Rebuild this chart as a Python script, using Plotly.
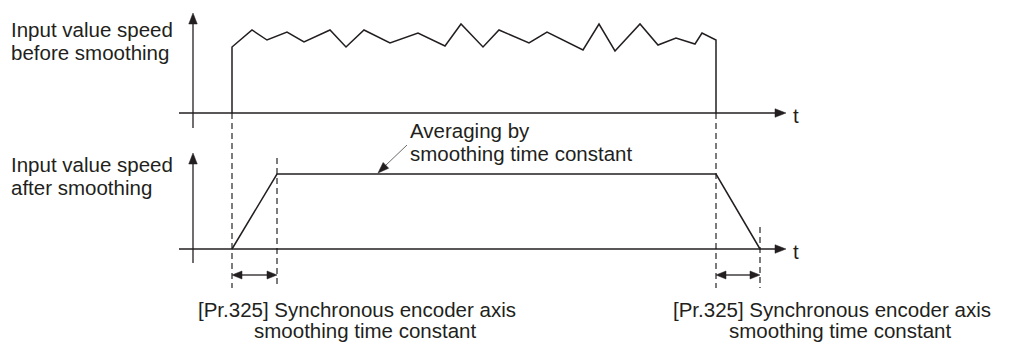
import plotly.graph_objects as go

# ---- data (diagram units: x = time position, y = speed level on the page) ----
# raw input speed (before smoothing)
raw_t = [232, 232, 252, 267, 287, 304, 330, 346, 364, 390, 418, 445, 461, 483, 499,
         529, 547, 583, 599, 615, 640, 658, 676, 695, 702, 716, 716]
raw_v = [113, 47, 30, 40, 32, 42, 30, 47, 30, 43, 33, 46, 24, 47, 30,
         43, 32, 50, 24, 51, 24, 45, 38, 44, 33, 40, 113]
# smoothed input speed (after smoothing)
smooth_t = [232, 277, 716, 760]
smooth_v = [249, 174, 174, 249]

# axes of the two time charts
top_origin = (193, 113)
bot_origin = (193, 249)
axis_x_start = 179
axis_x_end = 786
top_axis_y_top, top_axis_y_bottom = 13, 128
bot_axis_y_top, bot_axis_y_bottom = 153, 263

# dashed guide lines: (x, y_start, y_end)
guides = [(232, 113, 288), (277, 158, 288), (716, 113, 288), (760, 227, 288)]
# double arrows for smoothing time constant: (x0, x1, y)
spans = [(232, 277, 275), (716, 760, 275)]

label_top = ["Input value speed", "before smoothing"]
label_bot = ["Input value speed", "after smoothing"]
note_lines = ["Averaging by", "smoothing time constant"]
param_lines = ["[Pr.325] Synchronous encoder axis", "smoothing time constant"]

INK = "#231f20"
FONT = dict(family="Liberation Sans, Arial, sans-serif", size=20.5, color=INK)

fig = go.Figure()


def line(xs, ys, width=1.4, color=INK, dash=None):
    fig.add_trace(go.Scatter(x=xs, y=ys, mode="lines", hoverinfo="skip",
                             line=dict(color=color, width=width, dash=dash),
                             showlegend=False))


def head(tx, ty, dx, dy, length, width, color=INK):
    # filled triangular arrow head with tip at (tx, ty) pointing along (dx, dy)
    n = (dx * dx + dy * dy) ** 0.5
    ux, uy = dx / n, dy / n
    px, py = -uy, ux
    bx, by = tx - ux * length, ty - uy * length
    xs = [tx, bx + px * width / 2, bx - px * width / 2, tx]
    ys = [ty, by + py * width / 2, by - py * width / 2, ty]
    fig.add_trace(go.Scatter(x=xs, y=ys, mode="lines", fill="toself",
                             fillcolor=color, line=dict(color=color, width=0.5),
                             hoverinfo="skip", showlegend=False))


# axes
for (ox, oy), ytop, ybot in [(top_origin, top_axis_y_top, top_axis_y_bottom),
                             (bot_origin, bot_axis_y_top, bot_axis_y_bottom)]:
    line([ox, ox], [ybot, ytop + 8], width=1.3)
    head(ox, ytop, 0, -1, 11, 8.5)
    line([axis_x_start, axis_x_end - 8], [oy, oy], width=1.3)
    head(axis_x_end, oy, 1, 0, 11, 8.5)
    fig.add_annotation(x=axis_x_end + 5, y=oy + 2, text="t", showarrow=False,
                       xanchor="left", yanchor="middle", font=FONT)

# guides
for gx, y0, y1 in guides:
    line([gx, gx], [y0, y1], width=1.1, dash="6px,4px", color="#111111")

# waveforms
line(raw_t, raw_v, width=1.5)
line(smooth_t, smooth_v, width=1.5)

# spans
for x0, x1, y in spans:
    line([x0 + 8, x1 - 8], [y, y], width=1.3)
    head(x0, y, -1, 0, 10, 8)
    head(x1, y, 1, 0, 10, 8)

# leader arrow to flat segment
line([407, 385], [145, 166], width=0.8, color="#444444")
head(378, 173, -29, 28, 11, 8)

# texts
for i, s in enumerate(label_top):
    fig.add_annotation(x=9, y=29 + 23 * i, text=s, showarrow=False,
                       xanchor="left", yanchor="middle", font=FONT)
for i, s in enumerate(label_bot):
    fig.add_annotation(x=9, y=164 + 23 * i, text=s, showarrow=False,
                       xanchor="left", yanchor="middle", font=FONT)
for i, s in enumerate(note_lines):
    fig.add_annotation(x=408, y=130 + 23 * i, text=s, showarrow=False,
                       xanchor="left", yanchor="middle", font=FONT)
for cx in (357, 832):
    fig.add_annotation(x=cx, y=309, text=param_lines[0], showarrow=False,
                       xanchor="center", yanchor="middle", font=FONT)
    fig.add_annotation(x=cx + 8, y=330, text=param_lines[1], showarrow=False,
                       xanchor="center", yanchor="middle", font=FONT)

fig.update_layout(
    width=1009, height=342,
    margin=dict(l=0, r=0, t=0, b=0),
    paper_bgcolor="white", plot_bgcolor="white",
    xaxis=dict(range=[0, 1009], visible=False, fixedrange=True),
    yaxis=dict(range=[342, 0], visible=False, fixedrange=True),
    showlegend=False,
)

fig.write_html("out.html", config={"displayModeBar": False},
               post_script="document.body.style.margin='0';document.body.style.padding='0';")
